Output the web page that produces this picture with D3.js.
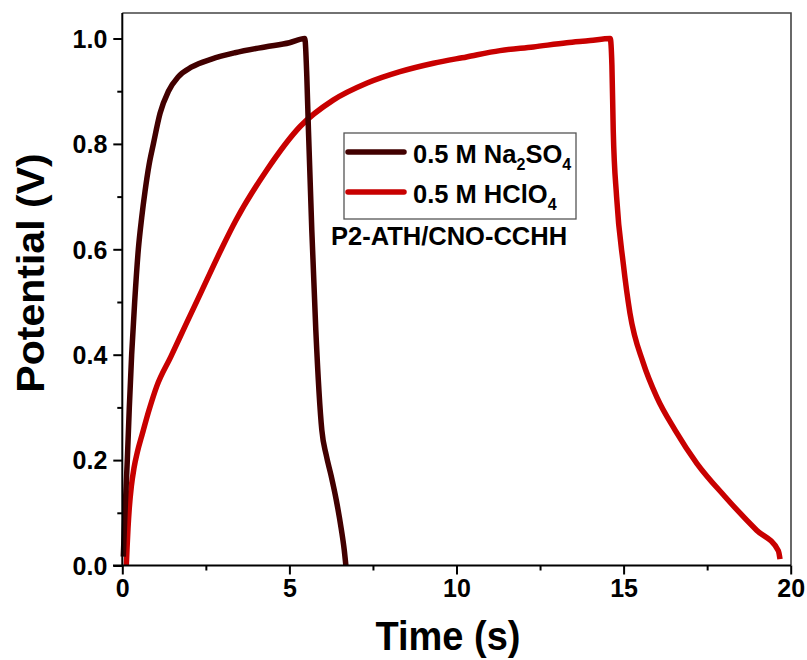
<!DOCTYPE html>
<html>
<head>
<meta charset="utf-8">
<script src="https://cdn.jsdelivr.net/npm/d3@7"></script>
<style>
html,body{margin:0;padding:0;background:#fff;}
svg{display:block;}
text{font-family:"Liberation Sans",Arial,sans-serif;font-weight:bold;fill:#000;}
</style>
</head>
<body>
<svg id="chart" width="807" height="660"></svg>
<script>
// ---- data ----
const naTime = [0.03,0.08,0.15,0.21,0.28,0.37,0.48,0.58,0.68,0.80,0.93,1.13,1.38,1.67,2.08,2.67,3.37,4.27,5.0,5.46,5.52,5.57,5.67,5.79,5.97,6.1,6.25,6.4,6.55,6.64,6.69];
const naPot  = [0.017,0.1,0.2,0.3,0.4,0.5,0.6,0.66,0.71,0.76,0.8,0.858,0.9,0.927,0.946,0.961,0.973,0.984,0.992,1.0,0.93,0.826,0.637,0.447,0.257,0.21,0.17,0.125,0.07,0.03,0.0];
const hcTime = [0.12,0.14,0.17,0.21,0.27,0.35,0.45,0.6,0.8,1.03,1.45,1.9,2.39,2.97,3.4,4.32,5.32,6.31,7.31,8.31,9.31,10.3,11.3,12.3,13.3,14.0,14.6,14.65,14.69,14.79,14.99,15.19,15.59,15.99,16.54,17.19,18.03,18.98,19.63,19.68];
const hcPot  = [0.0,0.03,0.07,0.11,0.15,0.185,0.215,0.25,0.295,0.34,0.396,0.457,0.523,0.601,0.655,0.75,0.833,0.883,0.915,0.937,0.953,0.965,0.977,0.984,0.992,0.996,1.0,0.95,0.826,0.7,0.573,0.479,0.384,0.32,0.257,0.194,0.131,0.067,0.028,0.012];
const seriesNames = ["0.5 M Na", "0.5 M HClO"];
const xTicks = [0,5,10,15,20];
const xMinor = [2.5,7.5,12.5,17.5];
const yTicks = [0.0,0.2,0.4,0.6,0.8,1.0];
const yMinor = [0.1,0.3,0.5,0.7,0.9];
const colors = ["#420000","#c80000"];

// ---- layout ----
const L = 122.3, R = 790.7, B = 565.5, T = 13;
const svg = d3.select("#chart");
const x = d3.scaleLinear().domain([0,20]).range([L,R]);
const y = d3.scaleLinear().domain([0,1]).range([B,38.5]);

// frame (top & right)
svg.append("path")
  .attr("d",`M${L},${T} L791,${T} L791,${B}`)
  .attr("fill","none").attr("stroke","#444").attr("stroke-width",1.6);

// lines
const line = d3.line().x(d=>x(d[0])).y(d=>y(d[1])).curve(d3.curveMonotoneX);
const naData = naTime.map((t,i)=>[t,naPot[i]]);
const hcData = hcTime.map((t,i)=>[t,hcPot[i]]);
const g = svg.append("g");
g.append("path").datum(hcData).attr("d",line).attr("fill","none")
  .attr("stroke",colors[1]).attr("stroke-width",5.5).attr("stroke-linejoin","round");
g.append("path").datum(naData).attr("d",line).attr("fill","none")
  .attr("stroke",colors[0]).attr("stroke-width",5.5).attr("stroke-linejoin","round");

// axes
const xAxis = d3.axisBottom(x).tickValues(xTicks).tickSize(9).tickFormat(d3.format("d")).tickSizeOuter(0);
const xg = svg.append("g").attr("transform",`translate(0,${B})`).call(xAxis);
xg.select(".domain").attr("stroke","#000").attr("stroke-width",2).attr("d",`M113,0H791`);
xg.selectAll(".tick line").attr("stroke","#000").attr("stroke-width",2);
xg.selectAll(".tick text").attr("font-size",25).attr("y",14).attr("dy","0.71em")
  .style("font-family","Liberation Sans, Arial, sans-serif").style("font-weight","bold");
const xm = d3.axisBottom(x).tickValues(xMinor).tickSize(5).tickFormat("");
const xmg = svg.append("g").attr("transform",`translate(0,${B})`).call(xm);
xmg.select(".domain").remove();
xmg.selectAll(".tick line").attr("stroke","#000").attr("stroke-width",2);

const yAxis = d3.axisLeft(y).tickValues(yTicks).tickSize(9).tickFormat(d3.format(".1f")).tickSizeOuter(0);
const yg = svg.append("g").attr("transform",`translate(${L},0)`).call(yAxis);
yg.select(".domain").attr("stroke","#000").attr("stroke-width",2).attr("d",`M0,${B+1}V${T}`);
yg.selectAll(".tick line").attr("stroke","#000").attr("stroke-width",2);
yg.selectAll(".tick text").attr("font-size",25).attr("x",-15).attr("dy","0.35em")
  .style("font-family","Liberation Sans, Arial, sans-serif").style("font-weight","bold");
const ym = d3.axisLeft(y).tickValues(yMinor).tickSize(5).tickFormat("");
const ymg = svg.append("g").attr("transform",`translate(${L},0)`).call(ym);
ymg.select(".domain").remove();
ymg.selectAll(".tick line").attr("stroke","#000").attr("stroke-width",2);

// axis titles
svg.append("text").attr("text-anchor","middle").attr("font-size",38)
  .attr("transform","translate(448,650) scale(1,1.08)").text("Time (s)");
svg.append("text").attr("text-anchor","middle").attr("font-size",38)
  .attr("transform","translate(44,273) rotate(-90) scale(1.08,1)").text("Potential (V)");

// legend
svg.append("rect").attr("x",344).attr("y",133).attr("width",232).attr("height",86)
  .attr("fill","#fff").attr("stroke","#555").attr("stroke-width",1.3);
const legY = [152,192];
legY.forEach((ly,i)=>{
  svg.append("line").attr("x1",348).attr("x2",404).attr("y1",ly).attr("y2",ly)
    .attr("stroke",colors[i]).attr("stroke-width",5.5).attr("stroke-linecap","round");
  const t = svg.append("text").attr("x",413).attr("y",ly+11).attr("font-size",25.5);
  t.append("tspan").text(seriesNames[i]);
  if(i===0){
    t.append("tspan").attr("font-size",16).attr("dy",7).text("2");
    t.append("tspan").attr("dy",-7).text("SO");
    t.append("tspan").attr("font-size",16).attr("dy",7).text("4");
  } else {
    t.append("tspan").attr("font-size",16).attr("dy",7).text("4");
  }
});
svg.append("text").attr("x",331).attr("y",245).attr("font-size",25.5).text("P2-ATH/CNO-CCHH");
</script>
</body>
</html>
